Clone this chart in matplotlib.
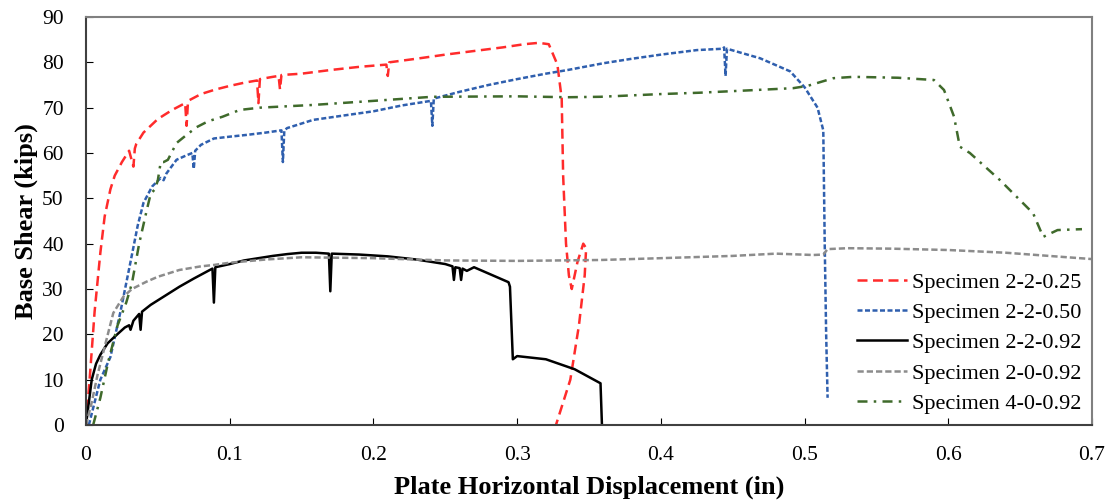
import matplotlib
matplotlib.use("Agg")
import matplotlib.pyplot as plt

# Specimen 2-2-0.25 (red)
x_225 = [0, 0.003, 0.006, 0.01, 0.013, 0.017, 0.02, 0.025, 0.03, 0.033, 0.034, 0.035, 0.04, 0.05,
         0.06, 0.069, 0.07, 0.071, 0.08, 0.09, 0.1, 0.11, 0.119, 0.12, 0.121, 0.13, 0.134, 0.135,
         0.136, 0.15, 0.17, 0.19, 0.209, 0.21, 0.211, 0.23, 0.25, 0.27, 0.29, 0.305, 0.315, 0.322,
         0.328, 0.331, 0.332, 0.334, 0.336, 0.338, 0.342, 0.346, 0.348, 0.347, 0.343, 0.337, 0.327]
y_225 = [0, 12, 25, 38, 46, 52, 55, 58, 60.5, 57, 61, 62, 64.5, 67.5,
         69.5, 71, 66, 71.5, 73, 74, 74.8, 75.5, 76, 71, 76.3, 76.8, 77, 74,
         77.2, 77.5, 78.3, 79, 79.5, 77, 80, 80.8, 81.7, 82.5, 83.3, 84, 84.3, 84,
         79.5, 72, 55, 40, 33, 30, 36, 40, 39, 33, 22, 10, 0]

# Specimen 2-2-0.50 (blue)
x_250 = [0.002, 0.006, 0.01, 0.017, 0.024, 0.031, 0.036, 0.04, 0.046, 0.052, 0.054, 0.056, 0.063,
         0.07, 0.074, 0.075, 0.076, 0.08, 0.089, 0.1, 0.112, 0.125, 0.136, 0.137, 0.138, 0.14,
         0.158, 0.18, 0.2, 0.22, 0.24, 0.241, 0.242, 0.26, 0.28, 0.3, 0.32, 0.335, 0.36, 0.38,
         0.4, 0.425, 0.443, 0.444, 0.445, 0.446, 0.469, 0.49, 0.5, 0.509, 0.513, 0.514, 0.515, 0.516]
y_250 = [0, 5, 10, 15, 25, 36, 44, 49, 52.6, 54.5, 54, 55.5, 58.5,
         59.5, 60, 56.5, 60.5, 61.8, 63.2, 63.6, 64, 64.5, 65, 58, 65, 65.5,
         67.3, 68.3, 69.2, 70.5, 71.5, 66, 72, 73.5, 75, 76.3, 77.5, 78.3, 79.8, 80.8,
         81.7, 82.7, 83, 83.3, 77, 83, 80.9, 78, 74.5, 70, 65, 40, 20, 6]

# Specimen 2-2-0.92 (black)
x_292 = [0, 0.002, 0.004, 0.007, 0.01, 0.015, 0.02, 0.027, 0.03, 0.031, 0.033, 0.037, 0.038, 0.039,
         0.045, 0.055, 0.065, 0.075, 0.085, 0.088, 0.089, 0.09, 0.1, 0.11, 0.12, 0.13, 0.14, 0.15,
         0.16, 0.169, 0.17, 0.171, 0.19, 0.21, 0.23, 0.25, 0.255, 0.256, 0.257, 0.26, 0.261, 0.262,
         0.265, 0.27, 0.294, 0.295, 0.297, 0.3, 0.32, 0.34, 0.358, 0.359]
y_292 = [0, 5, 10, 13.5, 15.5, 18, 19.5, 21.5, 22, 21, 23, 24.5, 21, 25,
         26.5, 28.5, 30.5, 32.3, 34, 34.5, 27, 34.8, 35.5, 36.3, 36.8, 37.3, 37.7, 38,
         38, 37.8, 29.5, 37.8, 37.6, 37.2, 36.5, 35.5, 35, 32, 34.8, 34.6, 32, 34.5,
         34, 34.8, 31.5, 30.5, 14.5, 15.2, 14.5, 12.3, 9.2, 0]

# Specimen 2-0-0.92 (gray)
x_092 = [0, 0.004, 0.008, 0.012, 0.016, 0.019, 0.026, 0.032, 0.042, 0.05, 0.065, 0.08, 0.089, 0.1,
         0.125, 0.15, 0.2, 0.25, 0.3, 0.358, 0.4, 0.45, 0.48, 0.506, 0.513, 0.516, 0.53, 0.56,
         0.6, 0.64, 0.67, 0.7]
y_092 = [0, 5, 11, 16, 21, 24.7, 28.3, 30, 31.6, 32.7, 34.2, 35, 35.3, 35.8,
         36.5, 37, 36.8, 36.3, 36.2, 36.4, 36.8, 37.3, 37.8, 37.5, 37.6, 38.8, 39, 38.9,
         38.6, 38, 37.3, 36.6]

# Specimen 4-0-0.92 (green)
x_492 = [0.005, 0.01, 0.0155, 0.022, 0.028, 0.032, 0.037, 0.042, 0.045, 0.048, 0.05, 0.052, 0.054,
         0.057, 0.063, 0.07, 0.077, 0.085, 0.095, 0.107, 0.121, 0.158, 0.2, 0.241, 0.3, 0.335,
         0.358, 0.4, 0.427, 0.46, 0.492, 0.502, 0.52, 0.534, 0.565, 0.59, 0.597, 0.604, 0.608,
         0.615, 0.636, 0.659, 0.666, 0.676, 0.693]
y_492 = [0, 6, 14, 22, 27, 31.3, 40, 47, 51, 52, 54, 58, 58,
         58.5, 62.2, 64, 65.7, 67, 68, 69.5, 70, 70.6, 71.5, 72.4, 72.5, 72.3,
         72.4, 73, 73.3, 73.8, 74.3, 74.8, 76.5, 76.8, 76.6, 76.1, 73.9, 68, 61.4,
         60, 54, 46.7, 41.5, 43, 43.2]

x_ticks = [0, 0.1, 0.2, 0.3, 0.4, 0.5, 0.6, 0.7]
x_tick_labels = ["0", "0.1", "0.2", "0.3", "0.4", "0.5", "0.6", "0.7"]
y_ticks = [0, 10, 20, 30, 40, 50, 60, 70, 80, 90]

plt.rcParams["font.family"] = ["Liberation Serif", "DejaVu Serif"]

fig = plt.figure(figsize=(11.08, 5.0), dpi=100)
ax = fig.add_axes([0.0776, 0.15, 0.908, 0.816])

lw = 1.8
ax.plot(x_225, y_225, color="#FF2B2B", lw=lw, dashes=(4, 2.2), label="Specimen 2-2-0.25")
ax.plot(x_250, y_250, color="#2F5FAE", lw=lw, dashes=(2, 1), label="Specimen 2-2-0.50")
ax.plot(x_292, y_292, color="black", lw=lw, label="Specimen 2-2-0.92")
ax.plot(x_092, y_092, color="#8C8C8C", lw=lw, dashes=(2.5, 1.2), label="Specimen 2-0-0.92")
ax.plot(x_492, y_492, color="#3F6A2B", lw=lw, dashes=(4, 2.5, 1, 2.5), label="Specimen 4-0-0.92")

ax.set_xlim(0, 0.7)
ax.set_ylim(0, 90)
ax.set_xticks(x_ticks)
ax.set_xticklabels(x_tick_labels)
ax.set_yticks(y_ticks)
ax.tick_params(direction="in", length=5, labelsize=15.5)
ax.tick_params(axis="x", pad=15)
ax.tick_params(axis="y", pad=16)

ax.set_xlabel("Plate Horizontal Displacement (in)", fontsize=19, fontweight="bold", labelpad=8)
ax.set_ylabel("Base Shear (kips)", fontsize=19, fontweight="bold", labelpad=3)

for side in ["top", "right"]:
    ax.spines[side].set_color("#808080")
for side in ["left", "bottom"]:
    ax.spines[side].set_color("#404040")
for s in ax.spines.values():
    s.set_linewidth(1.5)

ax.legend(loc="lower right", bbox_to_anchor=(1.0, 0.0), frameon=False, fontsize=16,
          handlelength=2.25, handletextpad=0.2, labelspacing=0.44, borderaxespad=0.1)

fig.savefig("out.png", dpi=100)
